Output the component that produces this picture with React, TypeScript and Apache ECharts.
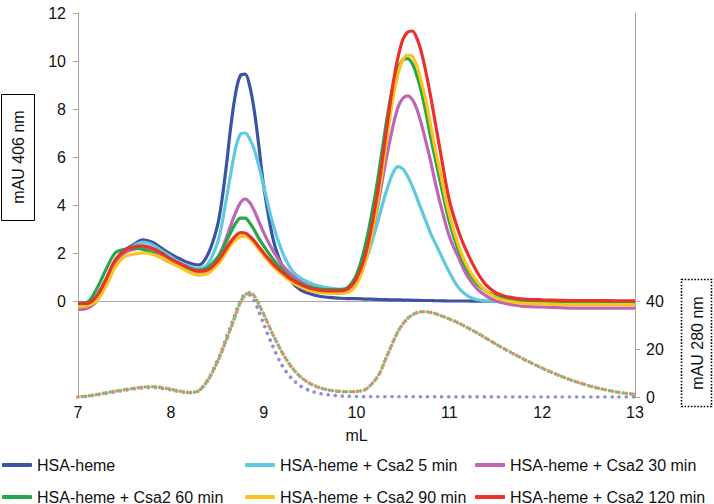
import React, { useEffect, useRef } from "react";
import * as echarts from "echarts";

// elution volume (mL)
const mL = [
  7.0, 7.1, 7.2, 7.3, 7.4, 7.5, 7.6, 7.7, 7.8, 7.9, 8.0, 8.1, 8.2, 8.3, 8.4, 8.5,
  8.55, 8.6, 8.65, 8.7, 8.75, 8.8, 8.85, 8.9, 8.95, 9.0,
  9.1, 9.2, 9.3, 9.4, 9.5, 9.6, 9.7, 9.8, 9.9, 10.0, 10.1, 10.2,
  10.25, 10.3, 10.35, 10.4, 10.45, 10.5, 10.55, 10.6, 10.65, 10.7, 10.75, 10.8, 10.85, 10.9,
  11.0, 11.1, 11.2, 11.3, 11.4, 11.5, 11.6, 11.7, 11.8,
  12.0, 12.2, 12.4, 12.6, 12.8, 13.0,
];

// mAU 406 nm
const hsaHeme = [
  -0.2, -0.15, 0.1, 0.8, 1.6, 2.1, 2.35, 2.55, 2.45, 2.2, 1.95, 1.75, 1.58, 1.5, 1.95, 3.1,
  4.2, 5.7, 7.4, 8.7, 9.4, 9.45, 8.95, 7.9, 6.4, 4.8,
  2.6, 1.45, 0.8, 0.45, 0.3, 0.2, 0.15, 0.12, 0.1, 0.1, 0.08, 0.07,
  0.06, 0.06, 0.05, 0.05, 0.05, 0.04, 0.04, 0.03, 0.03, 0.02, 0.02, 0.02, 0.01, 0.01,
  0.0, 0.0, 0.0, -0.01, -0.01, -0.02, -0.02, -0.02, -0.03,
  -0.03, -0.03, -0.04, -0.04, -0.04, -0.04,
];
const csa5 = [
  -0.15, -0.1, 0.2, 0.9, 1.6, 2.05, 2.3, 2.45, 2.35, 2.1, 1.85, 1.6, 1.45, 1.35, 1.55, 2.4,
  3.2, 4.3, 5.4, 6.4, 6.95, 7.0, 6.75, 6.3, 5.6, 4.8,
  3.2, 2.05, 1.3, 0.95, 0.75, 0.62, 0.55, 0.5, 0.5, 0.9, 1.7, 2.9,
  3.6, 4.3, 4.9, 5.4, 5.6, 5.5, 5.2, 4.8, 4.3, 3.8, 3.3, 2.8, 2.4, 2.0,
  1.2, 0.55, 0.2, 0.05, 0.0, -0.02, -0.03, -0.04, -0.05,
  -0.05, -0.05, -0.06, -0.06, -0.06, -0.06,
];
const csa30 = [
  -0.35, -0.3, 0.0, 0.8, 1.6, 2.0, 2.15, 2.2, 2.1, 1.9, 1.65, 1.45, 1.3, 1.2, 1.3, 1.75,
  2.15, 2.65, 3.2, 3.7, 4.1, 4.25, 4.1, 3.75, 3.3, 2.85,
  2.1, 1.5, 1.1, 0.8, 0.6, 0.5, 0.45, 0.42, 0.45, 0.8, 1.8, 3.4,
  4.4, 5.5, 6.5, 7.4, 8.1, 8.45, 8.55, 8.4, 8.0, 7.35, 6.6, 5.8, 4.9, 4.1,
  2.7, 1.8, 1.0, 0.5, 0.2, 0.0, -0.1, -0.17, -0.22,
  -0.25, -0.28, -0.3, -0.3, -0.3, -0.3,
];
const csa60 = [
  -0.1, -0.05, 0.5, 1.3, 2.0, 2.15, 2.2, 2.15, 2.0, 1.8, 1.6, 1.45, 1.32, 1.28, 1.4, 1.8,
  2.1, 2.5, 2.9, 3.25, 3.45, 3.45, 3.25, 2.95, 2.6, 2.3,
  1.75, 1.3, 0.95, 0.72, 0.58, 0.5, 0.47, 0.47, 0.55, 1.1, 2.4, 4.4,
  5.6, 6.9, 8.1, 9.1, 9.7, 10.05, 10.1, 9.9, 9.4, 8.7, 7.8, 6.8, 5.9, 5.0,
  3.3, 2.1, 1.25, 0.7, 0.4, 0.22, 0.12, 0.06, 0.03,
  0.0, -0.03, -0.05, -0.05, -0.05, -0.05,
];
const csa90 = [
  -0.25, -0.2, 0.0, 0.6, 1.4, 1.85, 1.95, 2.0, 1.95, 1.8, 1.6, 1.4, 1.2, 1.08, 1.15, 1.5,
  1.75, 2.05, 2.35, 2.55, 2.68, 2.7, 2.6, 2.4, 2.15, 1.9,
  1.45, 1.1, 0.8, 0.58, 0.43, 0.36, 0.33, 0.32, 0.35, 0.7, 1.7, 3.5,
  4.7, 6.0, 7.4, 8.6, 9.5, 10.05, 10.25, 10.2, 9.8, 9.1, 8.3, 7.3, 6.3, 5.4,
  3.6, 2.3, 1.4, 0.8, 0.4, 0.15, 0.02, -0.05, -0.1,
  -0.12, -0.15, -0.15, -0.15, -0.15, -0.15,
];
const csa120 = [
  -0.1, -0.1, 0.2, 0.9, 1.7, 2.1, 2.25, 2.3, 2.2, 2.0, 1.75, 1.55, 1.38, 1.25, 1.3, 1.65,
  1.9, 2.2, 2.5, 2.72, 2.85, 2.83, 2.7, 2.5, 2.25, 2.0,
  1.55, 1.2, 0.9, 0.68, 0.53, 0.45, 0.42, 0.42, 0.5, 0.95, 2.0, 3.9,
  5.1, 6.5, 7.9, 9.2, 10.2, 10.9, 11.2, 11.25, 10.95, 10.35, 9.5, 8.5, 7.4, 6.3,
  4.2, 2.9, 1.95, 1.2, 0.65, 0.35, 0.2, 0.12, 0.08,
  0.05, 0.03, 0.02, 0.02, 0.01, 0.01,
];

// mAU 280 nm
const a280Heme = [
  0.0, 0.3, 0.9, 1.5, 2.2, 2.8, 3.4, 3.8, 4.0, 3.6, 3.0, 2.2, 1.8, 2.6, 7.2, 15,
  19.5, 25, 30, 35.5, 40, 42.5, 42.5, 40, 35.5, 30.5,
  21, 13, 7.8, 4.5, 2.6, 1.5, 0.9, 0.5, 0.3, 0.2, 0.15, 0.1,
  0.1, 0.1, 0.1, 0.1, 0.1, 0.08, 0.08, 0.08, 0.08, 0.06, 0.06, 0.06, 0.06, 0.05,
  0.05, 0.05, 0.04, 0.04, 0.04, 0.03, 0.03, 0.03, 0.02,
  0.02, 0.02, 0.01, 0.01, 0.0, 0.0,
];
const a280Csa2 = [
  0.0, 0.4, 1.0, 1.7, 2.4, 3.0, 3.6, 4.1, 4.3, 3.9, 3.2, 2.4, 1.9, 2.6, 7.0, 14.5,
  19, 24, 29, 34.5, 39.5, 42.5, 43.5, 42, 38.5, 34.5,
  26, 18.5, 12.5, 8.3, 5.6, 3.9, 2.9, 2.4, 2.2, 2.3, 3.2, 7.0,
  10.0, 14.5, 19, 23.5, 27.5, 30.5, 32.7, 34.2, 35.1, 35.5, 35.5, 35.2, 34.7, 34.0,
  32.5, 30.8, 28.8, 26.7, 24.4, 22.1, 19.9, 17.8, 15.8,
  12.0, 8.7, 5.9, 3.7, 2.1, 1.1,
];

const leftTicks = [0, 2, 4, 6, 8, 10, 12];
const rightTicks = [0, 20, 40];

const solidSeries = [
  { name: "HSA-heme", values: hsaHeme, color: "#3A53A4" },
  { name: "HSA-heme + Csa2 5 min", values: csa5, color: "#5FC9DD" },
  { name: "HSA-heme + Csa2 30 min", values: csa30, color: "#C065B3" },
  { name: "HSA-heme + Csa2 60 min", values: csa60, color: "#24A84A" },
  { name: "HSA-heme + Csa2 90 min", values: csa90, color: "#FBC31B" },
  { name: "HSA-heme + Csa2 120 min", values: csa120, color: "#E8322A" },
];

const FONT = '"Liberation Sans", Arial, Helvetica, sans-serif';

export default function App() {
  const ref = useRef<HTMLDivElement>(null);

  useEffect(() => {
    if (!ref.current) return;
    const chart = echarts.init(ref.current, undefined, { renderer: "svg" });
    const pair = (vals: number[]) => mL.map((x, i) => [x, vals[i]]);

    const dotted = (name: string, vals: number[], color: string, offset: number) => ({
      name,
      type: "line",
      yAxisIndex: 1,
      data: pair(vals),
      showSymbol: false,
      symbol: "none",
      smooth: 0.3,
      silent: true,
      z: 1,
      color,
      lineStyle: { color, width: 3.6, type: [0.1, 7], cap: "round", dashOffset: offset },
    });

    const legendPos = [
      [2, 457],
      [245, 457],
      [475, 457],
      [2, 489],
      [245, 489],
      [475, 489],
    ];

    chart.setOption({
      animation: false,
      textStyle: { fontFamily: FONT },
      grid: { left: 78, right: 79, top: 13, bottom: 107, containLabel: false },
      xAxis: {
        type: "value",
        min: 7,
        max: 13,
        interval: 1,
        name: "mL",
        nameLocation: "middle",
        nameGap: 30,
        nameTextStyle: { fontSize: 16, color: "#111", fontFamily: FONT },
        axisLine: { show: true, lineStyle: { color: "#a6a6a6", width: 1 } },
        axisTick: { show: false },
        axisLabel: { fontSize: 16, color: "#111", margin: 7, fontFamily: FONT },
        splitLine: { show: false },
      },
      yAxis: [
        {
          type: "value",
          position: "left",
          min: -4,
          max: 12,
          interval: 2,
          axisLine: { show: true, lineStyle: { color: "#a6a6a6", width: 1 } },
          axisTick: { show: true, length: 5, customValues: leftTicks, lineStyle: { color: "#a6a6a6" } },
          axisLabel: {
            fontSize: 16,
            color: "#111",
            margin: 12,
            fontFamily: FONT,
            customValues: leftTicks,
            formatter: (v: number) => (v < 0 ? "" : String(v)),
          },
          splitLine: { show: false },
        },
        {
          type: "value",
          position: "right",
          min: 0,
          max: 160,
          interval: 20,
          axisLine: { show: true, lineStyle: { color: "#a6a6a6", width: 1 } },
          axisTick: { show: true, length: 5, customValues: rightTicks, lineStyle: { color: "#a6a6a6" } },
          axisLabel: {
            fontSize: 16,
            color: "#111",
            margin: 11,
            fontFamily: FONT,
            customValues: rightTicks,
            formatter: (v: number) => (v > 40 ? "" : String(v)),
          },
          splitLine: { show: false },
        },
      ],
      legend: solidSeries.map((s, i) => ({
        data: [s.name],
        left: legendPos[i][0],
        top: legendPos[i][1],
        padding: 0,
        icon: "roundRect",
        itemWidth: 30,
        itemHeight: 4,
        selectedMode: false,
        textStyle: { fontSize: 16, color: "#111", fontFamily: FONT },
      })),
      series: [
        dotted("280 HSA-heme", a280Heme, "#8C91D4", 0),
        dotted("280 Csa2 a", a280Csa2, "#72C08C", 2.5),
        dotted("280 Csa2 b", a280Csa2, "#E98C5C", 0),
        ...solidSeries.map((s, i) => ({
          name: s.name,
          type: "line",
          yAxisIndex: 0,
          data: pair(s.values),
          showSymbol: false,
          symbol: "none",
          smooth: 0.35,
          z: 2 + i,
          color: s.color,
          itemStyle: { color: s.color },
          lineStyle: { color: s.color, width: 3.2 },
        })),
      ],
      graphic: [
        {
          type: "rect",
          shape: { x: 1.5, y: 94.5, width: 33, height: 126 },
          style: { fill: "#fff", stroke: "#000", lineWidth: 1 },
          z: 10,
        },
        {
          type: "text",
          x: 18,
          y: 157,
          rotation: Math.PI / 2,
          style: {
            text: "mAU 406 nm",
            fontSize: 16,
            fontFamily: FONT,
            fill: "#111",
            align: "center",
            verticalAlign: "middle",
            textAlign: "center",
            textVerticalAlign: "middle",
          },
          z: 11,
        },
        {
          type: "rect",
          shape: { x: 681.5, y: 279.5, width: 30, height: 127 },
          style: { fill: "#fff", stroke: "#000", lineWidth: 1.6, lineDash: [1.6, 1.6] },
          z: 10,
        },
        {
          type: "text",
          x: 697,
          y: 343,
          rotation: Math.PI / 2,
          style: {
            text: "mAU 280 nm",
            fontSize: 16,
            fontFamily: FONT,
            fill: "#111",
            align: "center",
            verticalAlign: "middle",
            textAlign: "center",
            textVerticalAlign: "middle",
          },
          z: 11,
        },
      ],
    });

    return () => chart.dispose();
  }, []);

  return (
    <div
      ref={ref}
      style={{ position: "fixed", left: 0, top: 0, width: 714, height: 504, background: "#fff" }}
    />
  );
}
